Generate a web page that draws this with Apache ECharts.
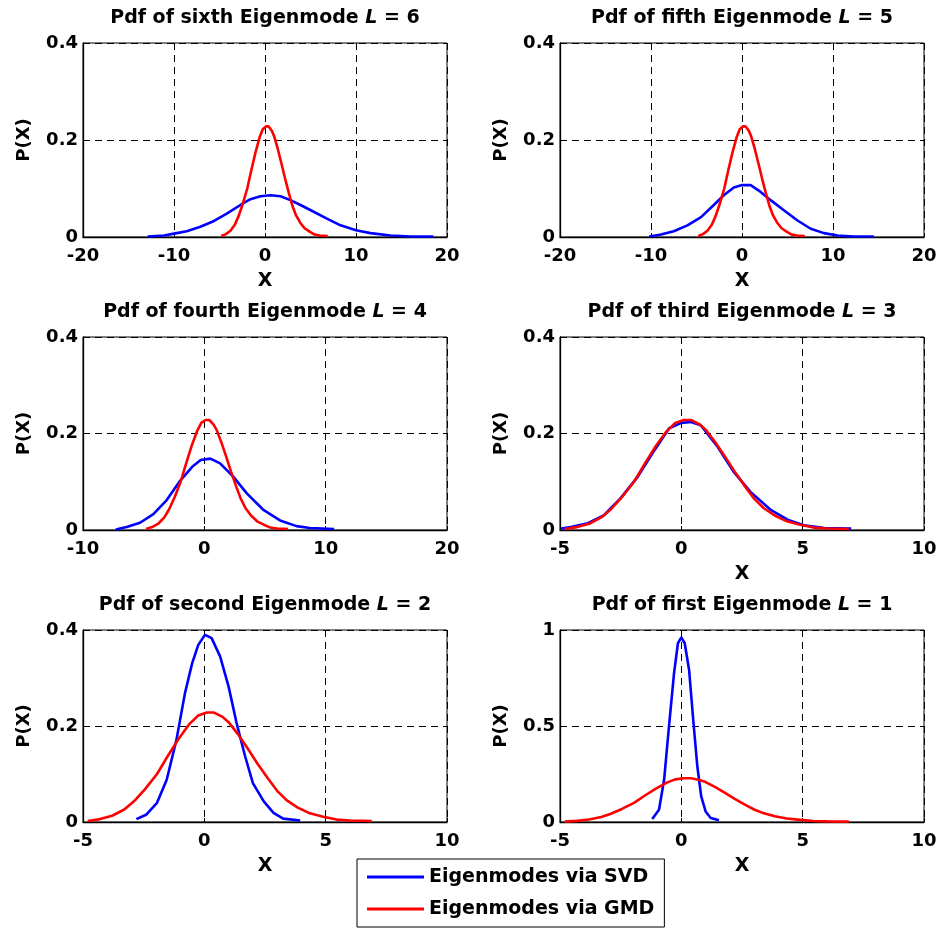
<!DOCTYPE html>
<html>
<head>
<meta charset="utf-8">
<script src="https://cdn.jsdelivr.net/npm/echarts@6/dist/echarts.min.js"></script>
<style>
  html, body { margin: 0; padding: 0; background: #fff; }
  #visualisation { width: 942px; height: 930px; }
</style>
</head>
<body>
<div id="visualisation"></div>
<script>
// Pdf: [x, P(X)]
// GMD curve is the same in every panel
const gmdPdf = [
    [-4.8, 0.002], [-4.3, 0.006], [-3.8, 0.013], [-3.3, 0.026], [-2.9, 0.043],
    [-2.45, 0.068], [-1.95, 0.100], [-1.5, 0.138], [-1.05, 0.174], [-0.6, 0.205],
    [-0.25, 0.222], [0.1, 0.228], [0.4, 0.228], [0.75, 0.219], [1.0, 0.208],
    [1.4, 0.182], [1.8, 0.152], [2.2, 0.121], [2.6, 0.092], [3.0, 0.065],
    [3.4, 0.045], [3.85, 0.030], [4.35, 0.018], [4.9, 0.011], [5.45, 0.005],
    [6.0, 0.003], [6.9, 0.002]
];

const svdPdf6 = [
    [-12.9, 0.001], [-11.1, 0.003], [-10.0, 0.007], [-8.6, 0.012], [-7.1, 0.021],
    [-5.6, 0.033], [-4.2, 0.048], [-2.7, 0.066], [-1.6, 0.078], [-0.5, 0.084],
    [0.6, 0.086], [1.7, 0.084], [2.8, 0.076], [3.9, 0.066], [5.35, 0.052],
    [6.8, 0.038], [8.3, 0.024], [10.0, 0.014], [11.6, 0.008], [13.8, 0.003],
    [16.0, 0.001], [18.5, 0.001]
];

const svdPdf5 = [
    [-10.2, 0.001], [-8.9, 0.005], [-7.5, 0.012], [-6.0, 0.024], [-4.5, 0.041],
    [-3.1, 0.066], [-2.0, 0.086], [-0.9, 0.102], [0.0, 0.107], [0.95, 0.107],
    [2.05, 0.093], [3.15, 0.076], [4.6, 0.055], [6.1, 0.034], [7.55, 0.017],
    [9.0, 0.008], [10.5, 0.003], [12.3, 0.001], [14.5, 0.001]
];

const svdPdf4 = [
    [-7.3, 0.001], [-6.4, 0.006], [-5.3, 0.015], [-4.2, 0.033], [-3.1, 0.062],
    [-2.0, 0.102], [-1.0, 0.131], [-0.3, 0.145], [0.5, 0.148], [1.3, 0.138],
    [2.4, 0.110], [3.5, 0.076], [4.9, 0.041], [6.3, 0.019], [7.6, 0.008],
    [8.7, 0.004], [10.7, 0.002]
];

const svdPdf3 = [
    [-4.95, 0.003], [-4.55, 0.006], [-3.85, 0.014], [-3.2, 0.030], [-2.5, 0.066],
    [-1.8, 0.110], [-1.1, 0.166], [-0.5, 0.211], [0.0, 0.222], [0.4, 0.224],
    [0.8, 0.217], [1.5, 0.172], [2.15, 0.121], [2.85, 0.079], [3.7, 0.041],
    [4.4, 0.021], [5.05, 0.010], [5.9, 0.004], [7.0, 0.003]
];

const svdPdf2 = [
    [-2.8, 0.006], [-2.4, 0.015], [-1.95, 0.040], [-1.55, 0.088], [-1.15, 0.171],
    [-0.8, 0.268], [-0.5, 0.331], [-0.25, 0.369], [0.03, 0.390], [0.3, 0.383],
    [0.65, 0.345], [1.0, 0.282], [1.33, 0.206], [1.68, 0.137], [2.0, 0.081],
    [2.45, 0.043], [2.85, 0.019], [3.25, 0.007], [3.95, 0.003]
];

const svdPdf1 = [
    [-1.2, 0.016], [-0.92, 0.064], [-0.71, 0.22], [-0.51, 0.497], [-0.3, 0.775],
    [-0.14, 0.931], [0.0, 0.962], [0.14, 0.931], [0.32, 0.792], [0.49, 0.532],
    [0.66, 0.289], [0.82, 0.133], [1.0, 0.055], [1.21, 0.021], [1.55, 0.009]
];

const panelTitles = [
    'Pdf of sixth Eigenmode {it|L} = 6',
    'Pdf of fifth Eigenmode {it|L} = 5',
    'Pdf of fourth Eigenmode {it|L} = 4',
    'Pdf of third Eigenmode {it|L} = 3',
    'Pdf of second Eigenmode {it|L} = 2',
    'Pdf of first Eigenmode {it|L} = 1'
];
const svdSeries = [svdPdf6, svdPdf5, svdPdf4, svdPdf3, svdPdf2, svdPdf1];
const xTicks = [
    [-20, -10, 0, 10, 20],
    [-20, -10, 0, 10, 20],
    [-10, 0, 10, 20],
    [-5, 0, 5, 10],
    [-5, 0, 5, 10],
    [-5, 0, 5, 10]
];
const yTicks = [
    [0, 0.2, 0.4], [0, 0.2, 0.4], [0, 0.2, 0.4],
    [0, 0.2, 0.4], [0, 0.2, 0.4], [0, 0.5, 1]
];
const xNames = ['X', 'X', '', 'X', 'X', 'X'];
const seriesNames = ['Eigenmodes via SVD', 'Eigenmodes via GMD'];

function drawVisualisation() {
    let visualisation = echarts.init(document.getElementById('visualisation'));

    const font = 'DejaVu Sans';
    const lefts = [83, 560];
    const tops = [43, 337, 630];
    const heights = [194, 193, 192];

    let grids = [], xAxes = [], yAxes = [], titles = [], series = [];

    for (let i = 0; i < 6; i++) {
        let col = i % 2, row = Math.floor(i / 2);
        grids.push({
            left: lefts[col], top: tops[row], width: 364, height: heights[row],
            show: true, borderColor: '#000', borderWidth: 1
        });

        let xt = xTicks[i], yt = yTicks[i];
        xAxes.push({
            type: 'value', gridIndex: i,
            min: xt[0], max: xt[xt.length - 1], interval: xt[1] - xt[0],
            name: xNames[i], nameLocation: 'middle', nameGap: 35,
            nameTextStyle: { fontFamily: font, fontWeight: 'bold', fontSize: 19, color: '#000' },
            axisLine: { onZero: false, lineStyle: { color: '#000', width: 1.3 } },
            axisTick: { inside: true, length: 4, lineStyle: { color: '#000' } },
            axisLabel: { margin: 10, fontFamily: font, fontWeight: 'bold', fontSize: 18, color: '#000' },
            splitLine: { show: true, lineStyle: { color: '#000', type: [7, 5], width: 1 } }
        });
        yAxes.push({
            type: 'value', gridIndex: i,
            min: yt[0], max: yt[yt.length - 1], interval: yt[1] - yt[0],
            name: 'P(X)', nameLocation: 'middle', nameGap: 50,
            nameTextStyle: { fontFamily: font, fontWeight: 'bold', fontSize: 18, color: '#000' },
            axisLine: { onZero: false, lineStyle: { color: '#000', width: 1.3 } },
            axisTick: { inside: true, length: 4, lineStyle: { color: '#000' } },
            axisLabel: { margin: 5, fontFamily: font, fontWeight: 'bold', fontSize: 18, color: '#000' },
            splitLine: { show: true, lineStyle: { color: '#000', type: [7, 5], width: 1 } }
        });

        titles.push({
            text: panelTitles[i],
            left: lefts[col] + 182, top: tops[row] - 34,
            textAlign: 'center', padding: 0,
            textStyle: {
                fontFamily: font, fontWeight: 'bold', fontSize: 19, color: '#000',
                rich: { it: { fontFamily: font, fontWeight: 'bold', fontStyle: 'italic', fontSize: 19, color: '#000' } }
            }
        });

        series.push({
            name: seriesNames[0], type: 'line', xAxisIndex: i, yAxisIndex: i,
            data: svdSeries[i], symbol: 'none', color: '#0000ff',
            lineStyle: { color: '#0000ff', width: 2.6 }
        });
        series.push({
            name: seriesNames[1], type: 'line', xAxisIndex: i, yAxisIndex: i,
            data: gmdPdf, symbol: 'none', color: '#ff0000',
            lineStyle: { color: '#ff0000', width: 2.6 }
        });
    }

    let option = {
        animation: false,
        backgroundColor: '#fff',
        title: titles,
        grid: grids,
        xAxis: xAxes,
        yAxis: yAxes,
        legend: {
            data: seriesNames,
            orient: 'vertical',
            left: 357, top: 859,
            padding: [8, 10, 8, 10],
            icon: 'rect',
            itemWidth: 57, itemHeight: 3, itemGap: 12,
            backgroundColor: '#fff', borderColor: '#000', borderWidth: 1,
            textStyle: { fontFamily: font, fontWeight: 'bold', fontSize: 19, lineHeight: 20, color: '#000' }
        },
        series: series
    };

    visualisation.setOption(option);
}

window.addEventListener('load', drawVisualisation);
</script>
</body>
</html>
